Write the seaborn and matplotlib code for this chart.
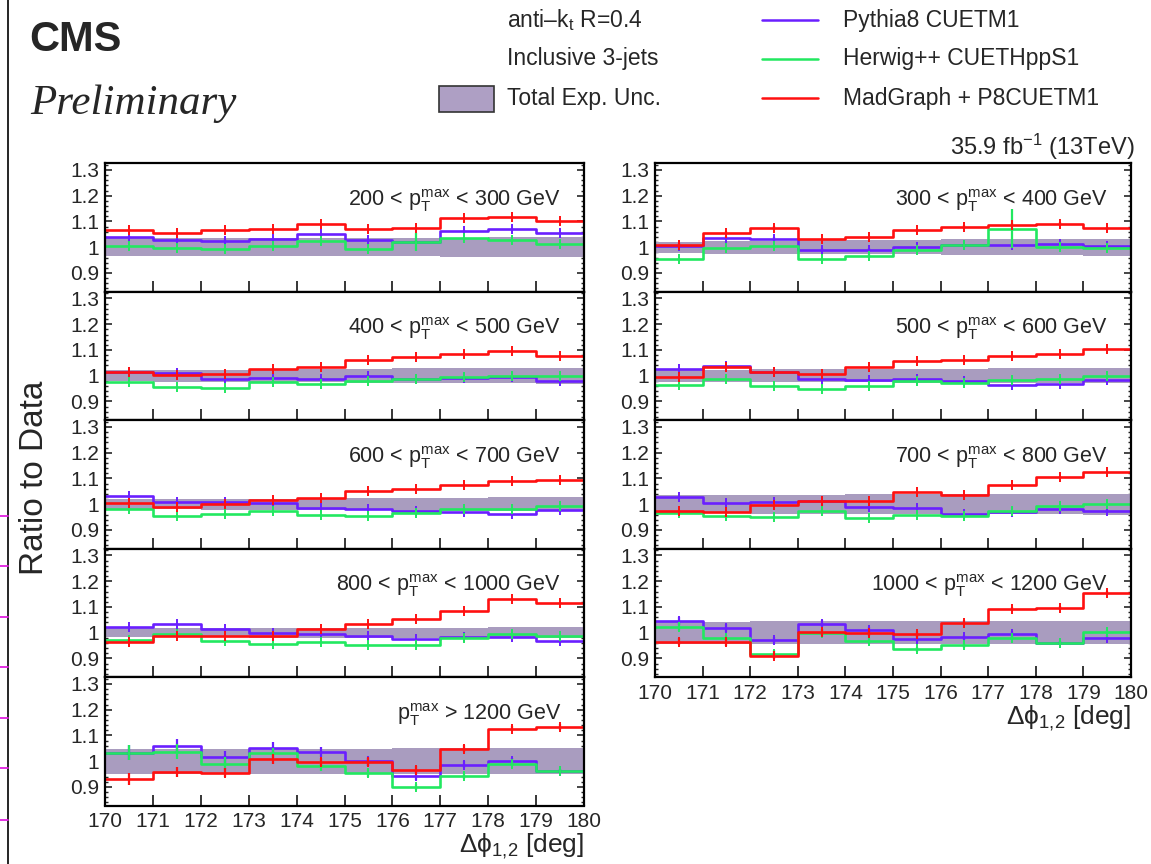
import numpy as np
import pandas as pd
import matplotlib
matplotlib.use("Agg")
import matplotlib.pyplot as plt
import seaborn as sns
from matplotlib.lines import Line2D
from matplotlib.patches import Rectangle
from matplotlib.ticker import MultipleLocator, FuncFormatter

# ---------------------------------------------------------------------------
# Data: ratio of predictions to data in bins of delta-phi_{1,2}
# ---------------------------------------------------------------------------
dphi_edges = [170, 171, 172, 173, 174, 175, 176, 177, 178, 179, 180]

generators = ["Pythia8 CUETM1", "Herwig++ CUETHppS1", "MadGraph + P8CUETM1"]
gen_colors = ["#6a1fff", "#22e860", "#ff1010"]
band_color = "#a99cbf"

pt_labels = [
    r"200 < $\mathrm{p}_\mathrm{T}^\mathrm{max}$ < 300 GeV",
    r"300 < $\mathrm{p}_\mathrm{T}^\mathrm{max}$ < 400 GeV",
    r"400 < $\mathrm{p}_\mathrm{T}^\mathrm{max}$ < 500 GeV",
    r"500 < $\mathrm{p}_\mathrm{T}^\mathrm{max}$ < 600 GeV",
    r"600 < $\mathrm{p}_\mathrm{T}^\mathrm{max}$ < 700 GeV",
    r"700 < $\mathrm{p}_\mathrm{T}^\mathrm{max}$ < 800 GeV",
    r"800 < $\mathrm{p}_\mathrm{T}^\mathrm{max}$ < 1000 GeV",
    r"1000 < $\mathrm{p}_\mathrm{T}^\mathrm{max}$ < 1200 GeV",
    r"$\mathrm{p}_\mathrm{T}^\mathrm{max}$ > 1200 GeV",
]

# 200 < pT < 300 GeV
py_200 = [1.039, 1.027, 1.026, 1.032, 1.050, 1.028, 1.022, 1.063, 1.069, 1.055]
hw_200 = [1.004, 0.997, 0.993, 1.004, 1.024, 0.992, 1.022, 1.035, 1.028, 1.013]
mg_200 = [1.067, 1.055, 1.067, 1.071, 1.090, 1.070, 1.075, 1.114, 1.117, 1.101]
unc_200 = [0.035, 0.035, 0.035, 0.035, 0.036, 0.036, 0.036, 0.037, 0.038, 0.038]
py_err_200 = [0.005, 0.005, 0.005, 0.005, 0.005, 0.005, 0.005, 0.005, 0.005, 0.005]
hw_err_200 = [0.005, 0.005, 0.005, 0.005, 0.005, 0.005, 0.035, 0.005, 0.005, 0.005]
mg_err_200 = [0.005, 0.005, 0.005, 0.005, 0.005, 0.005, 0.005, 0.005, 0.005, 0.005]

# 300 < pT < 400 GeV
py_300 = [1.004, 1.035, 1.031, 0.988, 0.988, 0.999, 1.007, 1.009, 1.012, 1.003]
hw_300 = [0.954, 0.996, 1.003, 0.954, 0.966, 0.991, 1.007, 1.071, 1.000, 0.995]
mg_300 = [1.009, 1.057, 1.074, 1.030, 1.038, 1.065, 1.079, 1.086, 1.089, 1.073]
unc_300 = [0.022, 0.025, 0.025, 0.027, 0.027, 0.028, 0.030, 0.030, 0.031, 0.033]
py_err_300 = [0.007, 0.007, 0.007, 0.007, 0.007, 0.007, 0.007, 0.007, 0.007, 0.007]
hw_err_300 = [0.006, 0.006, 0.006, 0.006, 0.006, 0.006, 0.006, 0.076, 0.006, 0.006]
mg_err_300 = [0.007, 0.007, 0.007, 0.007, 0.007, 0.007, 0.007, 0.007, 0.007, 0.007]

# 400 < pT < 500 GeV
py_400 = [1.016, 1.009, 0.988, 0.992, 0.988, 0.999, 0.988, 0.992, 0.996, 0.981]
hw_400 = [0.975, 0.956, 0.953, 0.975, 0.969, 0.981, 0.987, 0.996, 0.998, 0.998]
mg_400 = [1.015, 1.004, 1.007, 1.027, 1.033, 1.060, 1.071, 1.085, 1.096, 1.077]
unc_400 = [0.022, 0.024, 0.024, 0.025, 0.026, 0.027, 0.028, 0.029, 0.030, 0.031]
py_err_400 = [0.003, 0.003, 0.003, 0.003, 0.003, 0.003, 0.003, 0.003, 0.003, 0.003]
hw_err_400 = [0.003, 0.003, 0.003, 0.003, 0.003, 0.003, 0.003, 0.003, 0.003, 0.003]
mg_err_400 = [0.003, 0.003, 0.003, 0.003, 0.003, 0.003, 0.003, 0.003, 0.003, 0.003]

# 500 < pT < 600 GeV
py_500 = [1.025, 1.037, 1.013, 0.989, 0.985, 0.989, 0.979, 0.963, 0.969, 0.985]
hw_500 = [0.963, 0.988, 0.961, 0.947, 0.961, 0.980, 0.973, 0.984, 0.988, 1.000]
mg_500 = [0.995, 1.035, 1.013, 1.008, 1.033, 1.056, 1.060, 1.077, 1.083, 1.103]
unc_500 = [0.024, 0.024, 0.025, 0.025, 0.026, 0.027, 0.027, 0.028, 0.028, 0.029]
py_err_500 = [0.003, 0.003, 0.003, 0.003, 0.003, 0.003, 0.003, 0.003, 0.003, 0.003]
hw_err_500 = [0.003, 0.003, 0.003, 0.003, 0.003, 0.003, 0.003, 0.003, 0.003, 0.003]
mg_err_500 = [0.003, 0.003, 0.003, 0.003, 0.003, 0.003, 0.003, 0.003, 0.003, 0.003]

# 600 < pT < 700 GeV
py_600 = [1.033, 1.009, 1.009, 1.003, 0.985, 0.982, 0.975, 0.971, 0.963, 0.979]
hw_600 = [0.982, 0.955, 0.962, 0.974, 0.960, 0.956, 0.966, 0.983, 0.983, 0.992]
mg_600 = [1.005, 0.991, 1.000, 1.018, 1.026, 1.053, 1.059, 1.075, 1.092, 1.094]
unc_600 = [0.019, 0.020, 0.021, 0.022, 0.023, 0.024, 0.025, 0.026, 0.027, 0.028]
py_err_600 = [0.002, 0.002, 0.002, 0.002, 0.002, 0.002, 0.002, 0.002, 0.002, 0.002]
hw_err_600 = [0.002, 0.002, 0.002, 0.002, 0.002, 0.002, 0.002, 0.002, 0.002, 0.002]
mg_err_600 = [0.002, 0.002, 0.002, 0.002, 0.002, 0.002, 0.002, 0.002, 0.002, 0.002]

# 700 < pT < 800 GeV
py_700 = [1.029, 1.004, 1.007, 1.013, 0.988, 0.984, 0.962, 0.970, 0.980, 0.975]
hw_700 = [0.964, 0.955, 0.951, 0.975, 0.948, 0.958, 0.955, 0.974, 0.993, 1.000]
mg_700 = [0.974, 0.970, 0.996, 1.013, 1.011, 1.046, 1.037, 1.075, 1.106, 1.124]
unc_700 = [0.035, 0.036, 0.037, 0.037, 0.038, 0.038, 0.038, 0.039, 0.039, 0.040]
py_err_700 = [0.002, 0.002, 0.002, 0.002, 0.002, 0.002, 0.002, 0.002, 0.002, 0.002]
hw_err_700 = [0.002, 0.002, 0.002, 0.002, 0.002, 0.002, 0.002, 0.002, 0.002, 0.002]
mg_err_700 = [0.002, 0.002, 0.002, 0.002, 0.002, 0.002, 0.002, 0.002, 0.002, 0.002]

# 800 < pT < 1000 GeV
py_800 = [1.024, 1.035, 1.016, 1.000, 0.996, 0.986, 0.974, 0.985, 0.985, 0.966]
hw_800 = [0.973, 0.996, 0.968, 0.955, 0.964, 0.954, 0.954, 0.978, 0.996, 0.986]
mg_800 = [0.964, 0.986, 0.988, 0.986, 1.016, 1.034, 1.053, 1.086, 1.131, 1.116]
unc_800 = [0.018, 0.018, 0.018, 0.019, 0.019, 0.019, 0.020, 0.020, 0.021, 0.021]
py_err_800 = [0.003, 0.003, 0.003, 0.003, 0.003, 0.003, 0.003, 0.003, 0.003, 0.003]
hw_err_800 = [0.003, 0.003, 0.003, 0.003, 0.003, 0.003, 0.003, 0.003, 0.003, 0.003]
mg_err_800 = [0.003, 0.003, 0.003, 0.003, 0.003, 0.003, 0.003, 0.003, 0.003, 0.003]

# 1000 < pT < 1200 GeV
py_1000 = [1.044, 1.018, 0.970, 1.035, 1.012, 0.974, 0.982, 0.995, 0.960, 0.981]
hw_1000 = [1.021, 0.978, 0.919, 0.999, 0.968, 0.935, 0.951, 0.981, 0.961, 1.003]
mg_1000 = [0.965, 0.963, 0.911, 1.003, 0.997, 0.995, 1.039, 1.093, 1.096, 1.155]
unc_1000 = [0.043, 0.043, 0.044, 0.044, 0.044, 0.044, 0.045, 0.045, 0.045, 0.045]
py_err_1000 = [0.016, 0.014, 0.013, 0.014, 0.012, 0.012, 0.011, 0.010, 0.008, 0.010]
hw_err_1000 = [0.016, 0.014, 0.012, 0.012, 0.011, 0.010, 0.010, 0.010, 0.008, 0.008]
mg_err_1000 = [0.014, 0.013, 0.012, 0.012, 0.011, 0.011, 0.010, 0.008, 0.008, 0.008]

# pT > 1200 GeV
py_1200 = [1.033, 1.060, 1.016, 1.053, 1.035, 1.000, 0.944, 0.987, 1.000, 0.963]
hw_1200 = [1.033, 1.037, 0.991, 1.031, 0.983, 0.956, 0.900, 0.944, 0.991, 0.963]
mg_1200 = [0.931, 0.957, 0.955, 1.007, 0.997, 0.997, 0.967, 1.049, 1.127, 1.133]
unc_1200 = [0.048, 0.048, 0.049, 0.049, 0.049, 0.049, 0.050, 0.050, 0.050, 0.050]
py_err_1200 = [0.028, 0.028, 0.024, 0.022, 0.020, 0.018, 0.016, 0.014, 0.013, 0.008]
hw_err_1200 = [0.030, 0.028, 0.024, 0.022, 0.020, 0.016, 0.012, 0.012, 0.010, 0.008]
mg_err_1200 = [0.022, 0.020, 0.018, 0.018, 0.016, 0.015, 0.014, 0.012, 0.010, 0.010]

panels = [
    (py_200, hw_200, mg_200, unc_200, py_err_200, hw_err_200, mg_err_200),
    (py_300, hw_300, mg_300, unc_300, py_err_300, hw_err_300, mg_err_300),
    (py_400, hw_400, mg_400, unc_400, py_err_400, hw_err_400, mg_err_400),
    (py_500, hw_500, mg_500, unc_500, py_err_500, hw_err_500, mg_err_500),
    (py_600, hw_600, mg_600, unc_600, py_err_600, hw_err_600, mg_err_600),
    (py_700, hw_700, mg_700, unc_700, py_err_700, hw_err_700, mg_err_700),
    (py_800, hw_800, mg_800, unc_800, py_err_800, hw_err_800, mg_err_800),
    (py_1000, hw_1000, mg_1000, unc_1000, py_err_1000, hw_err_1000, mg_err_1000),
    (py_1200, hw_1200, mg_1200, unc_1200, py_err_1200, hw_err_1200, mg_err_1200),
]

# ---------------------------------------------------------------------------
# Style
# ---------------------------------------------------------------------------
sns.set_theme(style="ticks")
plt.rcParams["font.family"] = ["Liberation Sans", "DejaVu Sans"]
plt.rcParams["mathtext.fontset"] = "custom"
plt.rcParams["mathtext.rm"] = "Liberation Sans"
plt.rcParams["mathtext.it"] = "Liberation Sans:italic"
plt.rcParams["mathtext.bf"] = "Liberation Sans:bold"
plt.rcParams["axes.linewidth"] = 1.5
plt.rcParams["axes.edgecolor"] = "black"

W, H = 1151, 864
fig = plt.figure(figsize=(W / 100, H / 100), dpi=100)


def fx(px):
    return px / W


def fy(py):
    return 1 - py / H


edges = np.asarray(dphi_edges, dtype=float)
centers = 0.5 * (edges[:-1] + edges[1:])

col_left = [105, 655]
col_width = [479, 476]
row_top0, row_h = 163, 128.5
ylo, yhi = 0.828, 1.327

axes = []
for i, series in enumerate(panels):
    col = i % 2
    row = i // 2
    top = row_top0 + row * row_h
    ax = fig.add_axes([fx(col_left[col]), fy(top + row_h),
                       col_width[col] / W, row_h / H])
    axes.append(ax)
    py_v, hw_v, mg_v, unc, py_e, hw_e, mg_e = series

    # experimental uncertainty band around unity
    unc = np.asarray(unc)
    ax.fill_between(edges, np.append(1 - unc, 1 - unc[-1]),
                    np.append(1 + unc, 1 + unc[-1]),
                    step="post", color=band_color, lw=0, zorder=1)

    # step histograms of the three generator ratios
    rows = []
    for name, vals in zip(generators, (py_v, hw_v, mg_v)):
        yv = list(vals) + [vals[-1]]
        for xe, ye in zip(edges, yv):
            rows.append({"dphi": xe, "ratio": ye, "generator": name})
    df = pd.DataFrame(rows)
    sns.lineplot(data=df, x="dphi", y="ratio", hue="generator",
                 hue_order=generators, palette=gen_colors,
                 drawstyle="steps-post", linewidth=1.9, errorbar=None,
                 sort=False, legend=False, ax=ax, zorder=3)

    for vals, errs, c in zip((py_v, hw_v, mg_v), (py_e, hw_e, mg_e), gen_colors):
        ax.errorbar(centers, vals, yerr=errs, fmt="none", ecolor=c,
                    elinewidth=1.6, capsize=0, zorder=4)
        ax.plot(centers, vals, ls="none", marker="|", ms=7, mew=1.4,
                color=c, zorder=4)

    ax.set_xlim(170, 180)
    ax.set_ylim(ylo, yhi)
    ax.set_xlabel("")
    ax.set_ylabel("")
    ax.xaxis.set_major_locator(MultipleLocator(1))
    ax.yaxis.set_major_locator(MultipleLocator(0.1))
    ax.yaxis.set_minor_locator(MultipleLocator(0.02))
    ax.yaxis.set_major_formatter(FuncFormatter(lambda v, p: f"{v:g}"))
    ax.tick_params(axis="x", which="major", direction="in", length=8,
                   width=1.3, top=False, labelsize=15, pad=5)
    ax.tick_params(axis="y", which="major", direction="in", length=5,
                   width=1.2, right=True, labelsize=15, pad=4)
    ax.tick_params(axis="y", which="minor", direction="in", length=2.5,
                   width=1.0, right=True)
    for s in ax.spines.values():
        s.set_linewidth(1.6)
        s.set_zorder(5)

    last_in_col = (i == 8) or (i == 7)
    if not last_in_col:
        ax.tick_params(axis="x", labelbottom=False)

    ax.text(0.952, 0.71, pt_labels[i], transform=ax.transAxes,
            ha="right", va="center", fontsize=15.5)

# x-axis titles
xlab = r"Δϕ$_{1{,}2}$ [deg]"
fig.text(fx(584), fy(846), xlab, ha="right", va="center", fontsize=19)
fig.text(fx(1131), fy(718), xlab, ha="right", va="center", fontsize=19)

# y-axis title
fig.text(fx(35), fy(478), "Ratio to Data", rotation=90, ha="center",
         va="center", fontsize=24)

# headers
fig.text(fx(29), fy(40), "CMS", ha="left", va="center", fontsize=30,
         fontweight="bold")
fig.text(fx(30), fy(104), "Preliminary", ha="left", va="center",
         fontsize=31, fontstyle="italic", family="Liberation Serif")
fig.text(fx(1135), fy(147), r"35.9 fb$^{-1}$ (13TeV)", ha="right",
         va="center", fontsize=17)

# legend block
fig.text(fx(507), fy(20), r"anti–k$_\mathrm{t}$ R=0.4", ha="left",
         va="center", fontsize=16.5)
fig.text(fx(507), fy(59), "Inclusive 3-jets", ha="left", va="center",
         fontsize=16.5)
fig.text(fx(507), fy(98), "Total Exp. Unc.", ha="left", va="center",
         fontsize=16.5)
fig.add_artist(Rectangle((fx(439), fy(112)), (494 - 439) / W, 26 / H,
                         transform=fig.transFigure, facecolor="#ae9fc4",
                         edgecolor="#333333", lw=1.2))
for yy, name, c in zip((20, 59, 98), generators, gen_colors):
    fig.add_artist(Line2D([fx(762), fx(818)], [fy(yy), fy(yy)],
                          transform=fig.transFigure, color=c, lw=1.8))
    fig.text(fx(843), fy(yy), name, ha="left", va="center", fontsize=16.5)

# page border on the left edge
fig.add_artist(Line2D([fx(8), fx(8)], [0, 1], transform=fig.transFigure,
                      color="black", lw=1.2))
for yy in (516, 566, 617, 667, 718, 768, 820):
    fig.add_artist(Line2D([0, fx(8)], [fy(yy), fy(yy)],
                          transform=fig.transFigure, color="#e020e0", lw=1.3))

fig.savefig("out.png", dpi=100)
